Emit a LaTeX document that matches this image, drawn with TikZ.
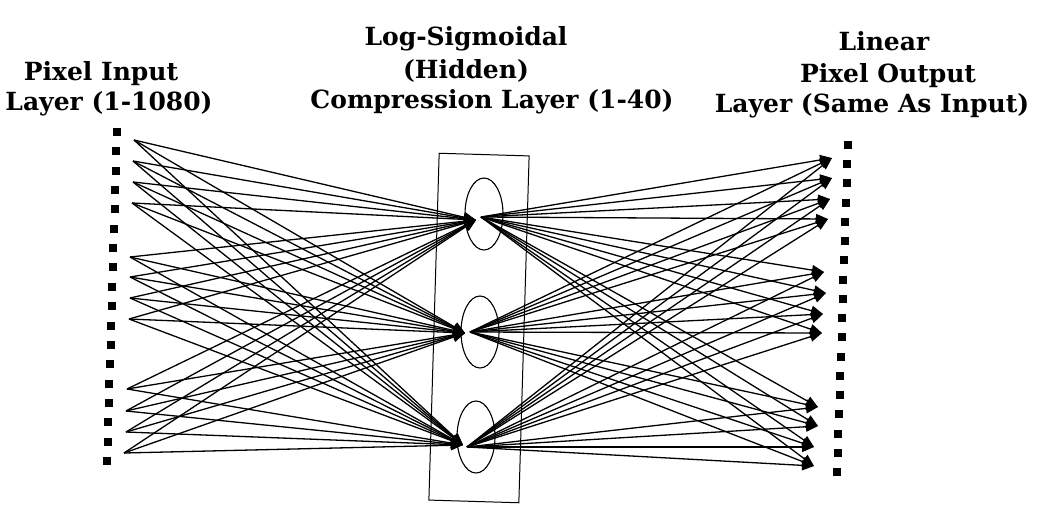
\documentclass[tikz,border=0pt]{standalone}
\usepackage{fontspec}
\setmainfont{DejaVu Serif}
\usetikzlibrary{arrows.meta,shapes.geometric}
\begin{document}
\begin{tikzpicture}[x=1pt,y=-1pt,
  lbl/.style={font=\fontsize{25}{30}\selectfont\bfseries, anchor=base, inner sep=0pt},
  pix/.style={fill=black, minimum size=8pt, inner sep=0pt},
  hid/.style={draw, ellipse, line width=1.1pt, minimum width=38pt, minimum height=72pt, inner sep=0pt},
  conn/.style={line width=1.3pt, -{Triangle[length=12pt,width=10pt]}},
  layerbox/.style={draw, line width=1pt, minimum width=90pt, minimum height=347pt, inner sep=0pt}]
\useasboundingbox (0,0) rectangle (1037,504);
% labels
\node[lbl] (t1) at (101,80) {Pixel Input};
\node[lbl] (t2) at (109,110) {Layer (1-1080)};
\node[lbl] (t3) at (466,45) {Log-Sigmoidal};
\node[lbl] (t4) at (466,78) {(Hidden)};
\node[lbl] (t5) at (492,108) {Compression Layer (1-40)};
\node[lbl] (t6) at (884,50) {Linear};
\node[lbl] (t7) at (888,82) {Pixel Output};
\node[lbl] (t8) at (872,112) {Layer (Same As Input)};
% pixel columns
\foreach \i in {0,...,17} {
  \node[pix] (lp\i) at ({117-10*\i/17},{132+329*\i/17}) {};
  \node[pix] (rp\i) at ({848-11*\i/17},{145+327*\i/17}) {};
}
% layer box and hidden units
\node[layerbox, rotate=-1.7] (box) at (479,328) {};
\node[hid] (hid1) at (484,214) {};
\node[hid] (hid2) at (480,332) {};
\node[hid] (hid3) at (476,437) {};
% hidden targets and sources
\coordinate (ht1) at (476,220); \coordinate (hs1) at (481,217);
\coordinate (ht2) at (465,333); \coordinate (hs2) at (470,332);
\coordinate (ht3) at (463,445); \coordinate (hs3) at (467,447);
% inputs
\foreach \n/\x/\y in {1/134/140,2/133/161,3/133/182,4/132/203,
                      5/130/257,6/130/277,7/130/298,8/129/319,
                      9/127/389,10/126/411,11/126/432,12/124/453}
  \coordinate (in\n) at (\x,\y);
% outputs
\foreach \n/\x/\y in {1/832/158,2/832/178,3/830/199,4/828/219,
                      5/824/272,6/826/293,7/823/314,8/822/333,
                      9/818/407,10/818/426,11/814/447,12/814/466}
  \coordinate (out\n) at (\x,\y);
% connections
\foreach \h in {1,2,3} {
  \foreach \n in {1,...,12} {
    \draw[conn] (in\n) -- (ht\h);
    \draw[conn] (hs\h) -- (out\n);
  }
}
\end{tikzpicture}
\end{document}
